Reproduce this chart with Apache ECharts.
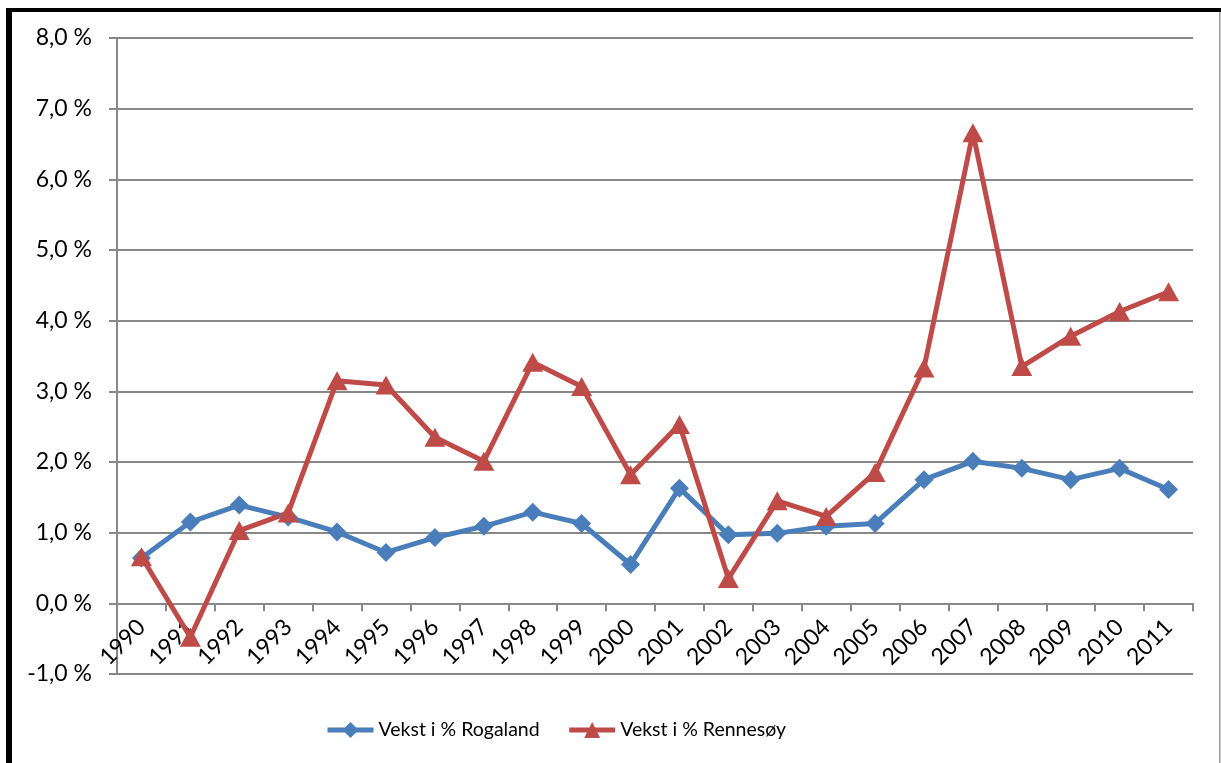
<!DOCTYPE html>
<html>
<head>
<meta charset="utf-8">
<script src="https://cdn.jsdelivr.net/npm/echarts@6/dist/echarts.min.js"></script>
<style>
html,body{margin:0;padding:0;background:#fff;}
#chart{width:1221px;height:763px;}
</style>
</head>
<body>
<div id="chart"></div>
<script>
const years = ['1990','1991','1992','1993','1994','1995','1996','1997','1998','1999','2000','2001','2002','2003','2004','2005','2006','2007','2008','2009','2010','2011'];
const rogaland = [0.64,1.15,1.39,1.22,1.01,0.72,0.93,1.09,1.29,1.13,0.55,1.63,0.97,0.99,1.09,1.13,1.75,2.01,1.91,1.75,1.91,1.61];
const rennesoy = [0.66,-0.48,1.03,1.28,3.15,3.09,2.35,2.01,3.41,3.07,1.82,2.53,0.35,1.45,1.23,1.85,3.33,6.66,3.35,3.78,4.13,4.41];
const seriesNames = ['Vekst i % Rogaland','Vekst i % Rennesøy'];
const yMin = -1, yMax = 8;

const FONT = 'Lato';
const gridTop = 38, gridBottom = 89, H = 763;
const plotH = H - gridTop - gridBottom;
const zeroOffset = -plotH * (0 - yMin) / (yMax - yMin);

const chart = echarts.init(document.getElementById('chart'));
chart.setOption({
  animation: false,
  backgroundColor: '#fff',
  textStyle: {fontFamily: FONT, color: '#000'},
  grid: {left: 117, right: 28, top: gridTop, bottom: gridBottom, containLabel: false},
  legend: {
    left: 320, top: 715,
    itemWidth: 46, itemHeight: 20, itemGap: 27,
    lineStyle: {width: 5},
    textStyle: {fontFamily: FONT, fontSize: 19.5, color: '#000'},
    data: seriesNames
  },
  xAxis: {
    type: 'category',
    data: years,
    boundaryGap: true,
    offset: zeroOffset,
    axisLine: {onZero: false, lineStyle: {color: '#888', width: 2}},
    axisTick: {show: true, length: 8, interval: 0, lineStyle: {color: '#888', width: 2}},
    axisLabel: {interval: 0, rotate: 45, fontSize: 23, fontFamily: FONT, color: '#000', margin: 20}
  },
  yAxis: {
    type: 'value',
    min: yMin, max: yMax, interval: 1,
    axisLine: {show: true, lineStyle: {color: '#888', width: 2}},
    axisTick: {show: true, length: 8, lineStyle: {color: '#888', width: 2}},
    splitLine: {show: true, lineStyle: {color: '#888', width: 2}},
    axisLabel: {
      fontSize: 23, fontFamily: FONT, color: '#000', margin: 25,
      formatter: v => v.toFixed(1).replace('.', ',') + ' %'
    }
  },
  series: [
    {
      name: seriesNames[0], type: 'line', data: rogaland,
      symbol: 'diamond', symbolSize: 19,
      lineStyle: {color: '#4A7EBB', width: 5},
      itemStyle: {color: '#4A7EBB'}
    },
    {
      name: seriesNames[1], type: 'line', data: rennesoy,
      symbol: 'triangle', symbolSize: [21, 19],
      lineStyle: {color: '#BE4B48', width: 5},
      itemStyle: {color: '#BE4B48'}
    }
  ],
  graphic: [
    {type: 'rect', shape: {x: 6, y: 8, width: 6, height: 755}, style: {fill: '#000'}, silent: true},
    {type: 'rect', shape: {x: 6, y: 8, width: 1215, height: 4}, style: {fill: '#000'}, silent: true},
    {type: 'rect', shape: {x: 1219, y: 12, width: 1.5, height: 751}, style: {fill: '#999'}, silent: true}
  ]
});
</script>
</body>
</html>
